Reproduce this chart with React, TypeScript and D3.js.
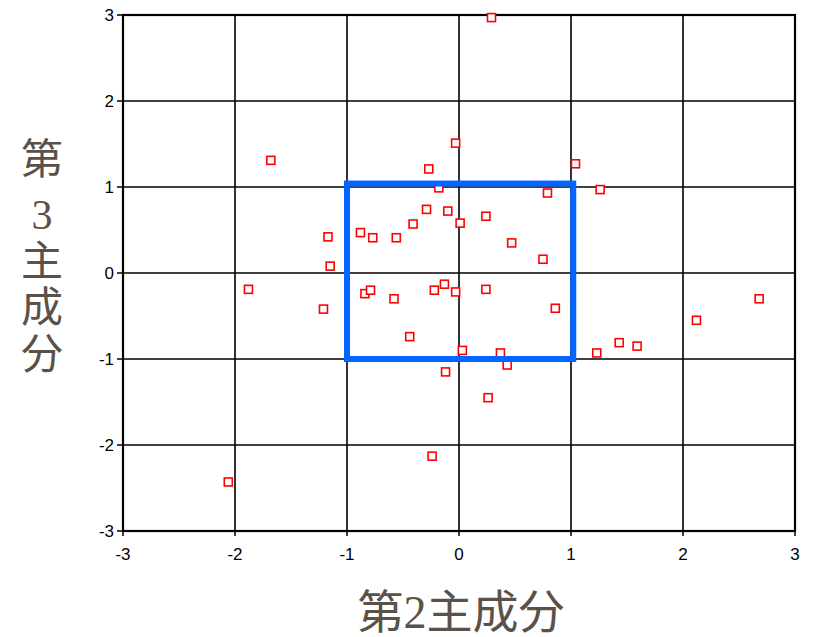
import React from "react";
import * as d3 from "d3";

const pc2: number[] = [0.29, -1.68, -0.03, -0.27, 1.04, -0.18, 1.26, 0.79, -0.29, -0.10, 0.24, -0.41, 0.01, -0.88, -0.77, -0.56, -1.17, -1.15, 0.47, 0.75, -1.88, -1.21, -0.84, -0.79, -0.58, -0.22, -0.13, -0.03, 0.24, 0.86, -0.44, 0.03, 0.37, 0.43, -0.12, 1.23, 1.43, 1.59, 2.12, 2.68, 0.26, -0.24, -2.06];
const pc3: number[] = [2.97, 1.31, 1.51, 1.21, 1.27, 0.99, 0.97, 0.93, 0.74, 0.72, 0.66, 0.57, 0.58, 0.47, 0.41, 0.41, 0.42, 0.08, 0.35, 0.16, -0.19, -0.42, -0.24, -0.20, -0.30, -0.20, -0.13, -0.22, -0.19, -0.41, -0.74, -0.90, -0.93, -1.07, -1.15, -0.93, -0.81, -0.85, -0.55, -0.30, -1.45, -2.13, -2.43];
const ticks: number[] = [-3, -2, -1, 0, 1, 2, 3];
const boxX: number[] = [-1, 1.02];
const boxY: number[] = [-1, 1.04];
const xTitle = "第2主成分";
const yTitleChars: string[] = ["第", "3", "主", "成", "分"];

export default function App() {
  const x = d3.scaleLinear().domain([-3, 3]).range([123, 795]);
  const y = d3.scaleLinear().domain([-3, 3]).range([531, 15]);
  const labelColor = "#5a5149";
  const titleFont = "'Liberation Serif', 'Noto Sans CJK JP', serif";
  const yTitleCenters = [159, 214, 261, 307, 354];
  return (
    <svg width={813} height={637} style={{ position: "absolute", left: 0, top: 0, background: "#fff" }}>
      {ticks.map((t) => (
        <line key={"gx" + t} x1={x(t)} x2={x(t)} y1={y(-3)} y2={y(3)} stroke="#000" strokeWidth={1.6} />
      ))}
      {ticks.map((t) => (
        <line key={"gy" + t} x1={x(-3)} x2={x(3)} y1={y(t)} y2={y(t)} stroke="#000" strokeWidth={1.6} />
      ))}
      <rect x={x(-3)} y={y(3)} width={x(3) - x(-3)} height={y(-3) - y(3)} fill="none" stroke="#000" strokeWidth={2.2} />
      {ticks.map((t) => (
        <line key={"tx" + t} x1={x(t)} x2={x(t)} y1={y(-3)} y2={y(-3) + 5} stroke="#000" strokeWidth={1.5} />
      ))}
      {ticks.map((t) => (
        <line key={"ty" + t} x1={x(-3) - 6} x2={x(-3)} y1={y(t)} y2={y(t)} stroke="#000" strokeWidth={1.5} />
      ))}
      {ticks.map((t) => (
        <text key={"lx" + t} x={x(t)} y={y(-3) + 29} textAnchor="middle" fontFamily="'Liberation Sans', Arial, sans-serif" fontSize={17} fill="#000">
          {t}
        </text>
      ))}
      {ticks.map((t) => (
        <text key={"ly" + t} x={x(-3) - 9} y={y(t)} dy="0.36em" textAnchor="end" fontFamily="'Liberation Sans', Arial, sans-serif" fontSize={17} fill="#000">
          {t}
        </text>
      ))}
      {pc2.map((v, i) => (
        <rect key={"p" + i} x={x(v) - 4} y={y(pc3[i]) - 4} width={8} height={8} fill="#fff" stroke="#ff0000" strokeWidth={1.6} />
      ))}
      <rect x={x(boxX[0])} y={y(boxY[1])} width={x(boxX[1]) - x(boxX[0])} height={y(boxY[0]) - y(boxY[1])} fill="none" stroke="#0066ff" strokeWidth={6} />
      <text x={461} y={628} textAnchor="middle" fontFamily={titleFont} fontSize={46} fill={labelColor}>
        {xTitle}
      </text>
      {yTitleChars.map((c, i) => (
        <text key={"yt" + i} x={42} y={yTitleCenters[i]} dy="0.36em" textAnchor="middle" fontFamily={titleFont} fontSize={42} fill={labelColor}>
          {c}
        </text>
      ))}
    </svg>
  );
}
